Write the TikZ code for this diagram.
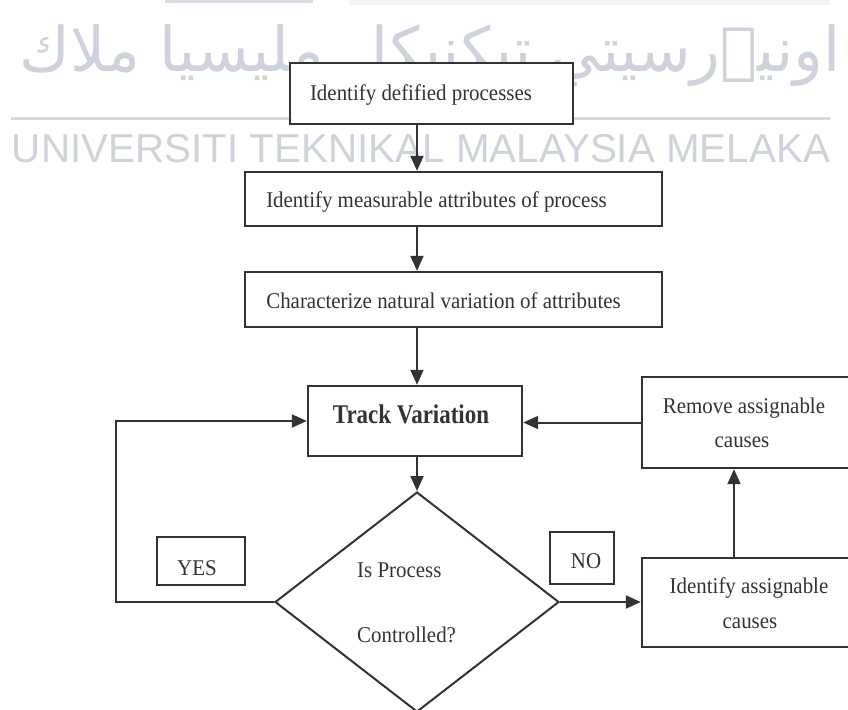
\documentclass[tikz,border=0pt]{standalone}
\usepackage{fontspec}
\setmainfont{Liberation Serif}[FakeStretch=0.93]
\newfontfamily\headfont{Liberation Serif}[FakeStretch=0.85]
\newfontfamily\unifont{Liberation Sans}
\newfontfamily\jawifont[Script=Arabic]{DejaVu Sans}
\TeXXeTstate=1
\usetikzlibrary{arrows.meta,shapes.geometric}
\definecolor{ink}{HTML}{333333}
\definecolor{wmark}{HTML}{CED2DC}
\definecolor{wline}{HTML}{D8D9DE}

\begin{document}
\begin{tikzpicture}[x=1pt,y=-1pt,
  box/.style={draw=ink, line width=2.4pt, fill=white, inner sep=0pt, rectangle},
  lbl/.style={text=ink, font=\fontsize{22.5}{26}\selectfont, inner sep=0pt},
  conn/.style={draw=ink, line width=2pt},
  arr/.style={conn, -{Triangle[length=15pt,width=13pt]}},
]
\useasboundingbox (0,0) rectangle (848,709);
\fill[white] (0,0) rectangle (848,709);

% faint strips along the top edge
\fill[fill={rgb,255:red,220;green,221;blue,232}] (165,0) rectangle (313,3);
\fill[fill={rgb,255:red,243;green,243;blue,243}] (349,0) rectangle (830,5);

% university watermark
\node[text=wmark, inner sep=0pt] (jawi) at (430,56)
  {\resizebox{820pt}{!}{\jawifont\beginR اونيۏرسيتي تيكنيكل مليسيا ملاك\endR}};
\draw[wline, line width=3pt] (11,118) -- (830,118);
\node[text=wmark, inner sep=0pt] (uni) at (421,149)
  {\resizebox{818pt}{!}{\unifont UNIVERSITI TEKNIKAL MALAYSIA MELAKA}};

% process boxes
\node[box, minimum width=283pt, minimum height=61pt] (box1) at (431.5,93.5) {};
\node[box, minimum width=417pt, minimum height=54pt] (box2) at (453.5,199) {};
\node[box, minimum width=417pt, minimum height=55pt] (box3) at (453.5,299.5) {};
\node[box, minimum width=214pt, minimum height=70pt] (track) at (415,421) {};
\node[box, minimum width=218pt, minimum height=91pt] (remove) at (751,422.5) {};
\node[box, minimum width=218pt, minimum height=89pt] (ident) at (751,602.5) {};
\node[box, minimum width=88pt, minimum height=48pt] (yes) at (201,561) {};
\node[box, minimum width=64pt, minimum height=52pt] (no) at (582,558) {};
\node[draw=ink, line width=2pt, fill=white, diamond, inner sep=0pt,
      minimum width=284pt, minimum height=220pt] (dia) at (417,602) {};

% box texts
\node[lbl, anchor=base] (t1) at (421,100) {Identify defified processes};
\node[lbl, anchor=base] (t2) at (436.5,207) {Identify measurable attributes of process};
\node[lbl, anchor=base] (t3) at (443.5,308) {Characterize natural variation of attributes};
\node[lbl, anchor=base, font=\headfont\bfseries\fontsize{27}{30}\selectfont] (t4) at (411,423) {Track Variation};
\node[lbl, anchor=base west] (t5) at (357,577) {Is Process};
\node[lbl, anchor=base west] (t6) at (357,642) {Controlled?};
\node[lbl, anchor=base] (t7) at (744,413) {Remove assignable};
\node[lbl, anchor=base] (t8) at (742,447) {causes};
\node[lbl, anchor=base] (t9) at (749,593) {Identify assignable};
\node[lbl, anchor=base] (t10) at (750,628) {causes};
\node[lbl, anchor=base] (t11) at (197,575) {YES};
\node[lbl, anchor=base] (t12) at (586,568) {NO};

% connectors
\coordinate (loopc) at (116,602);
\coordinate (upx) at (734,0);
\draw[arr] (box1.south -| dia.north) -- (box2.north -| dia.north);
\draw[arr] (box2.south -| dia.north) -- (box3.north -| dia.north);
\draw[arr] (box3.south -| dia.north) -- (track.north -| dia.north);
\draw[arr] (track.south -| dia.north) -- (dia.north);
\draw[arr] (dia.west) -- (loopc) |- (track.west);
\draw[arr] (dia.east) -- (ident.west |- dia.east);
\draw[arr] (ident.north -| upx) -- (remove.south -| upx);
\draw[arr] (remove.west) -- (track.east |- remove.west);
\end{tikzpicture}
\end{document}
